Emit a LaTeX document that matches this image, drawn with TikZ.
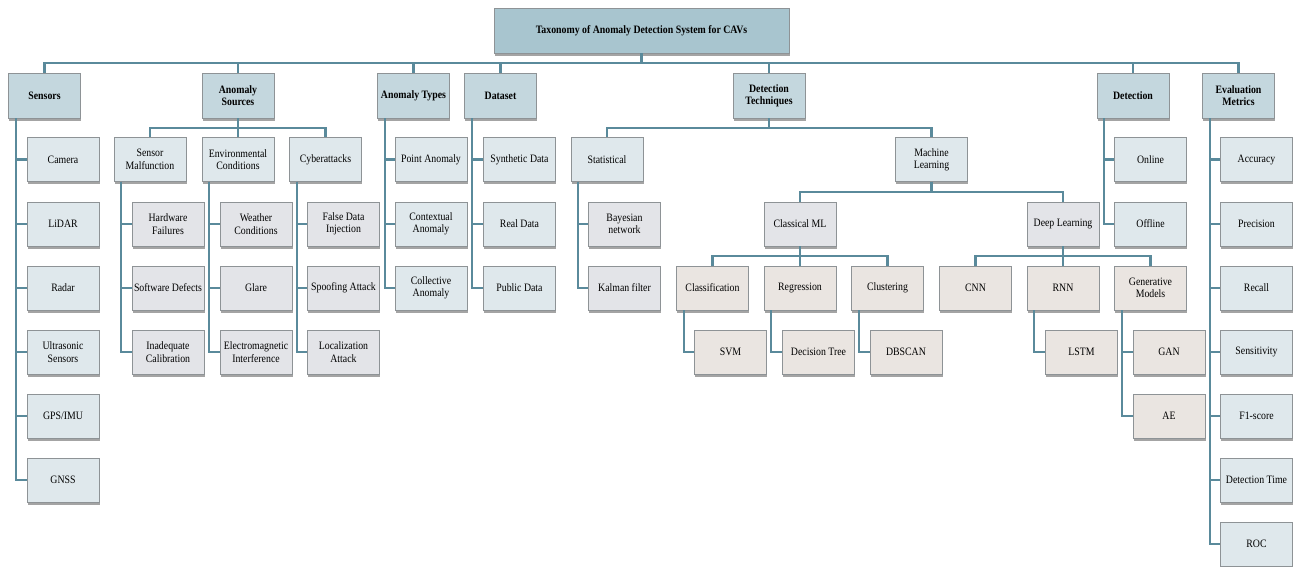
\documentclass[tikz,border=0pt]{standalone}
\usepackage{fontspec}
\setmainfont{Liberation Serif}[FakeStretch=0.87]
\usetikzlibrary{shadows}
\definecolor{titlefill}{HTML}{A8C5CF}
\definecolor{headfill}{HTML}{C4D7DE}
\definecolor{bluefill}{HTML}{DFE8EC}
\definecolor{greyfill}{HTML}{E3E4E8}
\definecolor{beigefill}{HTML}{EAE5E1}
\definecolor{boxline}{HTML}{8E9396}
\definecolor{linkline}{HTML}{5A8A9B}
\tikzset{
  box/.style={rectangle, draw=boxline, line width=0.7pt, align=center,
    minimum width=72pt, minimum height=44pt, inner sep=1pt,
    font=\fontsize{11.3}{12.4}\selectfont,
    drop shadow={shadow xshift=0.8pt, shadow yshift=-2.8pt, opacity=0.55, fill=black!65}},
  headbox/.style={box, fill=headfill, minimum height=45pt, font=\bfseries\fontsize{11.3}{12.4}\selectfont},
  titlebox/.style={box, fill=titlefill, minimum width=295pt, minimum height=45pt, font=\bfseries\fontsize{11.3}{12.4}\selectfont},
  bluebox/.style={box, fill=bluefill},
  greybox/.style={box, fill=greyfill},
  beigebox/.style={box, fill=beigefill},
  conn/.style={draw=linkline, line width=2.1pt},
}
\begin{document}
\begin{tikzpicture}[x=1pt, y=-1pt]
\useasboundingbox (0,0) rectangle (1299,567);

% root and first level
\node[titlebox] (root) at (641.5,30.5) {Taxonomy of Anomaly Detection System for CAVs};
\node[headbox] (sens)  at (44.5,95.5)   {Sensors};
\node[headbox] (asrc)  at (238,95.5)    {Anomaly\\Sources};
\node[headbox] (atyp)  at (413.5,95.5)  {Anomaly Types};
\node[headbox] (data)  at (500.5,95.5)  {Dataset};
\node[headbox] (dtech) at (769,95.5)    {Detection\\Techniques};
\node[headbox] (det)   at (1133,95.5)   {Detection};
\node[headbox] (eval)  at (1238.5,95.5) {Evaluation\\Metrics};

% sensors
\node[bluebox] (cam)   at (63,159.5) {Camera};
\node[bluebox] (lidar) at (63,224)   {LiDAR};
\node[bluebox] (radar) at (63,288)   {Radar};
\node[bluebox] (ultra) at (63,352)   {Ultrasonic\\Sensors};
\node[bluebox] (gps)   at (63,416)   {GPS/IMU};
\node[bluebox] (gnss)  at (63,480)   {GNSS};

% anomaly sources
\node[bluebox] (smal) at (150,159.5)   {Sensor\\Malfunction};
\node[bluebox] (env)  at (238,159.5)   {Environmental\\Conditions};
\node[bluebox] (cyb)  at (325.5,159.5) {Cyberattacks};
\node[greybox] (hw)   at (168,224) {Hardware\\Failures};
\node[greybox] (sw)   at (168,288) {Software Defects};
\node[greybox] (cal)  at (168,352) {Inadequate\\Calibration};
\node[greybox] (wth)  at (256,224) {Weather\\Conditions};
\node[greybox] (glr)  at (256,288) {Glare};
\node[greybox] (emi)  at (256,352) {Electromagnetic\\Interference};
\node[greybox] (fdi)  at (343.5,224) {False Data\\Injection};
\node[greybox] (spf)  at (343.5,288) {Spoofing Attack};
\node[greybox] (loc)  at (343.5,352) {Localization\\Attack};

% anomaly types
\node[bluebox] (pt)   at (431,159.5) {Point Anomaly};
\node[bluebox] (ctx)  at (431,224)   {Contextual\\Anomaly};
\node[bluebox] (col)  at (431,288)   {Collective\\Anomaly};

% dataset
\node[bluebox] (syn)  at (519.5,159.5) {Synthetic Data};
\node[bluebox] (real) at (519.5,224)   {Real Data};
\node[bluebox] (pub)  at (519.5,288)   {Public Data};

% detection techniques
\node[bluebox] (stat) at (607,159.5)   {Statistical};
\node[bluebox] (ml)   at (931.5,159.5) {Machine\\Learning};
\node[greybox] (bay)  at (624.5,224) {Bayesian\\network};
\node[greybox] (kal)  at (624.5,288) {Kalman filter};
\node[greybox] (cml)  at (800,224)   {Classical ML};
\node[greybox] (dl)   at (1063,224)  {Deep Learning};
\node[beigebox] (cls) at (712.5,288) {Classification};
\node[beigebox] (reg) at (800,288)   {Regression};
\node[beigebox] (clu) at (887.5,288) {Clustering};
\node[beigebox] (svm) at (730.5,352) {SVM};
\node[beigebox] (dt)  at (818.5,352) {Decision Tree};
\node[beigebox] (dbs) at (906,352)   {DBSCAN};
\node[beigebox] (cnn) at (975.5,288)  {CNN};
\node[beigebox] (rnn) at (1063,288)   {RNN};
\node[beigebox] (gen) at (1150.5,288) {Generative\\Models};
\node[beigebox] (lstm) at (1081.5,352) {LSTM};
\node[beigebox] (gan) at (1169,352) {GAN};
\node[beigebox] (ae)  at (1169,416) {AE};

% detection
\node[bluebox] (onl) at (1150.5,159.5) {Online};
\node[bluebox] (off) at (1150.5,224)   {Offline};

% evaluation metrics
\node[bluebox] (acc)  at (1256.5,159.5) {Accuracy};
\node[bluebox] (prec) at (1256.5,224)   {Precision};
\node[bluebox] (rec)  at (1256.5,288)   {Recall};
\node[bluebox] (sen)  at (1256.5,352)   {Sensitivity};
\node[bluebox] (f1)   at (1256.5,416)   {F1-score};
\node[bluebox] (dtm)  at (1256.5,480)   {Detection Time};
\node[bluebox] (roc)  at (1256.5,544)   {ROC};

% bus connectors
\foreach \h in {sens,asrc,atyp,data,dtech,det,eval}
  \draw[conn] (root.south) -- ++(0,10) -| (\h.north);
\foreach \c in {smal,env,cyb}
  \draw[conn] (asrc.south) -- ++(0,10) -| (\c.north);
\foreach \c in {stat,ml}
  \draw[conn] (dtech.south) -- ++(0,10) -| (\c.north);
\foreach \c in {cml,dl}
  \draw[conn] (ml.south) -- ++(0,10.5) -| (\c.north);
\foreach \c in {cls,reg,clu}
  \draw[conn] (cml.south) -- ++(0,10) -| (\c.north);
\foreach \c in {cnn,rnn,gen}
  \draw[conn] (dl.south) -- ++(0,10) -| (\c.north);

% trunk connectors
\foreach \p/\cs in {sens/{cam,lidar,radar,ultra,gps,gnss},
                    smal/{hw,sw,cal}, env/{wth,glr,emi}, cyb/{fdi,spf,loc},
                    atyp/{pt,ctx,col}, data/{syn,real,pub},
                    stat/{bay,kal}, cls/{svm}, reg/{dt}, clu/{dbs},
                    rnn/{lstm}, gen/{gan,ae}, det/{onl,off},
                    eval/{acc,prec,rec,sen,f1,dtm,roc}}
  \foreach \c in \cs
    \draw[conn] ([xshift=7.5pt]\p.south west) |- (\c.west);
\end{tikzpicture}
\end{document}
